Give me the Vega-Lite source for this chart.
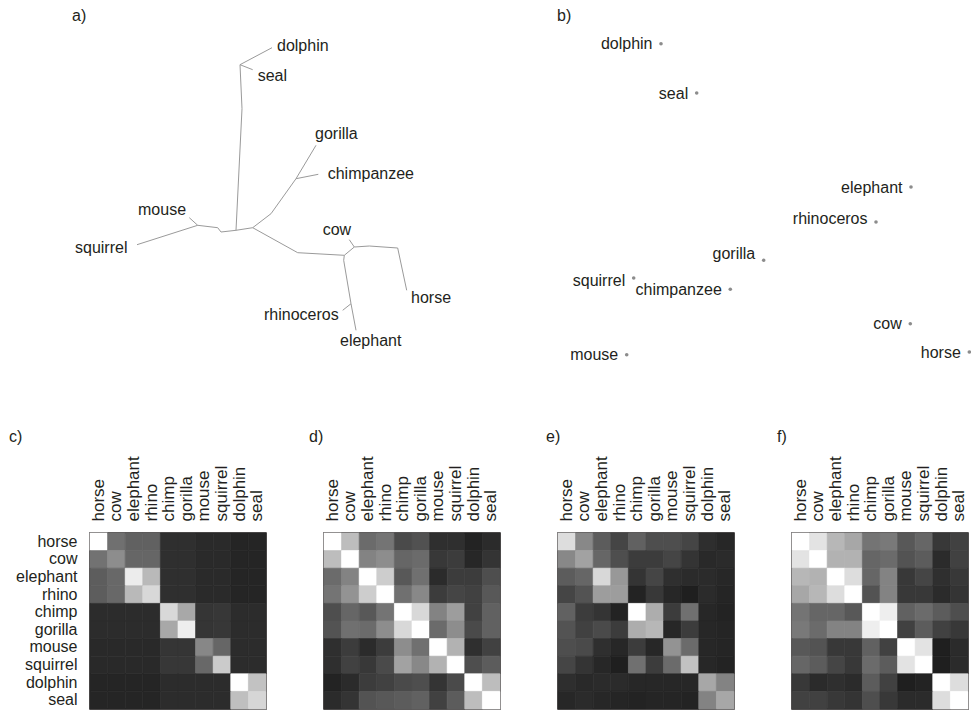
{
  "$schema": "https://vega.github.io/schema/vega-lite/v6.json",
  "padding": {"left": 8, "top": 8, "right": 0, "bottom": 0},
  "background": "white",
  "config": {
    "view": {"stroke": null},
    "font": "Liberation Sans",
    "title": {"font": "Liberation Sans", "fontSize": 16, "fontWeight": "normal", "color": "#231f20", "anchor": "start", "frame": "group", "baseline": "alphabetic"},
    "axis": {"labelFont": "Liberation Sans", "labelFontSize": 16, "labelColor": "#231f20", "ticks": false, "domain": false, "grid": false, "title": null},
    "text": {"font": "Liberation Sans", "fontSize": 16, "color": "#231f20"}
  },
  "datasets": {
    "tree": [
      {"x": 271, "y": 45.7, "x2": 239, "y2": 62.7},
      {"x": 239, "y": 62.7, "x2": 251.7, "y2": 67.7},
      {"x": 239, "y": 62.7, "x2": 241, "y2": 106.7},
      {"x": 241, "y": 106.7, "x2": 235, "y2": 228.3},
      {"x": 235, "y": 228.3, "x2": 220, "y2": 230},
      {"x": 220, "y": 230, "x2": 216.7, "y2": 225.7},
      {"x": 216.7, "y": 225.7, "x2": 196.7, "y2": 223.3},
      {"x": 196.7, "y": 223.3, "x2": 188.3, "y2": 215.7},
      {"x": 196.7, "y": 223.3, "x2": 136, "y2": 242.7},
      {"x": 235, "y": 228.3, "x2": 251.7, "y2": 225.7},
      {"x": 251.7, "y": 225.7, "x2": 270, "y2": 211.7},
      {"x": 270, "y": 211.7, "x2": 295, "y2": 176.7},
      {"x": 295, "y": 176.7, "x2": 315, "y2": 143.3},
      {"x": 295, "y": 176.7, "x2": 317.3, "y2": 172.3},
      {"x": 251.7, "y": 225.7, "x2": 296.7, "y2": 250.7},
      {"x": 296.7, "y": 250.7, "x2": 343.3, "y2": 253.3},
      {"x": 343.3, "y": 253.3, "x2": 353.3, "y2": 245},
      {"x": 353.3, "y": 245, "x2": 348.3, "y2": 237.7},
      {"x": 353.3, "y": 245, "x2": 368.3, "y2": 244},
      {"x": 368.3, "y": 244, "x2": 396.7, "y2": 246},
      {"x": 396.7, "y": 246, "x2": 405.7, "y2": 288.3},
      {"x": 343.3, "y": 253.3, "x2": 342.7, "y2": 258.3},
      {"x": 342.7, "y": 258.3, "x2": 350, "y2": 301.7},
      {"x": 350, "y": 301.7, "x2": 355, "y2": 328.3},
      {"x": 350, "y": 301.7, "x2": 341.7, "y2": 308.3}
    ],
    "treelab": [
      {"name": "dolphin", "x": 276, "y": 49},
      {"name": "seal", "x": 256.7, "y": 79},
      {"name": "gorilla", "x": 314, "y": 137},
      {"name": "chimpanzee", "x": 326.7, "y": 177},
      {"name": "mouse", "x": 137, "y": 213},
      {"name": "squirrel", "x": 74, "y": 251},
      {"name": "cow", "x": 321.7, "y": 233},
      {"name": "horse", "x": 410, "y": 301},
      {"name": "rhinoceros", "x": 263, "y": 318},
      {"name": "elephant", "x": 339, "y": 344}
    ],
    "mds": [
      {"name": "dolphin", "x": 660, "y": 41.7, "ly": 47},
      {"name": "seal", "x": 695.7, "y": 91, "ly": 96.5},
      {"name": "elephant", "x": 910, "y": 185, "ly": 190.5},
      {"name": "rhinoceros", "x": 875, "y": 220, "ly": 221.5},
      {"name": "gorilla", "x": 762.7, "y": 258.3, "ly": 257},
      {"name": "squirrel", "x": 632.7, "y": 276, "ly": 284},
      {"name": "chimpanzee", "x": 729.3, "y": 287.3, "ly": 292.5},
      {"name": "cow", "x": 909.3, "y": 321.7, "ly": 326.7},
      {"name": "horse", "x": 968.3, "y": 350, "ly": 355.5},
      {"name": "mouse", "x": 625.7, "y": 352.7, "ly": 358}
    ],
    "mat": [
      {"p": "c", "r": "horse", "horse": 255, "cow": 120, "elephant": 105, "rhino": 105, "chimp": 49, "gorilla": 49, "mouse": 43, "squirrel": 43, "dolphin": 38, "seal": 38},
      {"p": "c", "r": "cow", "horse": 122, "cow": 150, "elephant": 110, "rhino": 110, "chimp": 49, "gorilla": 49, "mouse": 43, "squirrel": 43, "dolphin": 38, "seal": 38},
      {"p": "c", "r": "elephant", "horse": 101, "cow": 112, "elephant": 238, "rhino": 192, "chimp": 49, "gorilla": 49, "mouse": 43, "squirrel": 43, "dolphin": 38, "seal": 38},
      {"p": "c", "r": "rhino", "horse": 101, "cow": 112, "elephant": 192, "rhino": 220, "chimp": 49, "gorilla": 49, "mouse": 43, "squirrel": 43, "dolphin": 38, "seal": 38},
      {"p": "c", "r": "chimp", "horse": 46, "cow": 46, "elephant": 46, "rhino": 46, "chimp": 220, "gorilla": 176, "mouse": 57, "squirrel": 59, "dolphin": 46, "seal": 46},
      {"p": "c", "r": "gorilla", "horse": 46, "cow": 46, "elephant": 46, "rhino": 46, "chimp": 176, "gorilla": 240, "mouse": 57, "squirrel": 59, "dolphin": 46, "seal": 46},
      {"p": "c", "r": "mouse", "horse": 42, "cow": 42, "elephant": 42, "rhino": 42, "chimp": 57, "gorilla": 57, "mouse": 144, "squirrel": 110, "dolphin": 46, "seal": 46},
      {"p": "c", "r": "squirrel", "horse": 42, "cow": 42, "elephant": 42, "rhino": 42, "chimp": 59, "gorilla": 59, "mouse": 112, "squirrel": 208, "dolphin": 46, "seal": 46},
      {"p": "c", "r": "dolphin", "horse": 37, "cow": 37, "elephant": 37, "rhino": 37, "chimp": 46, "gorilla": 46, "mouse": 46, "squirrel": 46, "dolphin": 255, "seal": 200},
      {"p": "c", "r": "seal", "horse": 37, "cow": 37, "elephant": 37, "rhino": 37, "chimp": 46, "gorilla": 46, "mouse": 46, "squirrel": 46, "dolphin": 197, "seal": 218},

      {"p": "d", "r": "horse", "horse": 255, "cow": 195, "elephant": 115, "rhino": 125, "chimp": 80, "gorilla": 88, "mouse": 50, "squirrel": 50, "dolphin": 35, "seal": 45},
      {"p": "d", "r": "cow", "horse": 195, "cow": 255, "elephant": 140, "rhino": 150, "chimp": 110, "gorilla": 115, "mouse": 60, "squirrel": 65, "dolphin": 40, "seal": 55},
      {"p": "d", "r": "elephant", "horse": 115, "cow": 140, "elephant": 255, "rhino": 210, "chimp": 95, "gorilla": 120, "mouse": 45, "squirrel": 65, "dolphin": 65, "seal": 85},
      {"p": "d", "r": "rhino", "horse": 125, "cow": 155, "elephant": 210, "rhino": 255, "chimp": 120, "gorilla": 145, "mouse": 65, "squirrel": 75, "dolphin": 70, "seal": 95},
      {"p": "d", "r": "chimp", "horse": 85, "cow": 110, "elephant": 95, "rhino": 125, "chimp": 255, "gorilla": 220, "mouse": 140, "squirrel": 165, "dolphin": 70, "seal": 105},
      {"p": "d", "r": "gorilla", "horse": 90, "cow": 120, "elephant": 115, "rhino": 150, "chimp": 220, "gorilla": 255, "mouse": 115, "squirrel": 150, "dolphin": 80, "seal": 105},
      {"p": "d", "r": "mouse", "horse": 50, "cow": 65, "elephant": 45, "rhino": 65, "chimp": 150, "gorilla": 120, "mouse": 255, "squirrel": 185, "dolphin": 50, "seal": 70},
      {"p": "d", "r": "squirrel", "horse": 50, "cow": 70, "elephant": 60, "rhino": 80, "chimp": 170, "gorilla": 145, "mouse": 185, "squirrel": 255, "dolphin": 85, "seal": 100},
      {"p": "d", "r": "dolphin", "horse": 35, "cow": 45, "elephant": 65, "rhino": 70, "chimp": 80, "gorilla": 85, "mouse": 55, "squirrel": 80, "dolphin": 255, "seal": 195},
      {"p": "d", "r": "seal", "horse": 45, "cow": 55, "elephant": 90, "rhino": 95, "chimp": 100, "gorilla": 105, "mouse": 70, "squirrel": 100, "dolphin": 195, "seal": 255},

      {"p": "e", "r": "horse", "horse": 225, "cow": 145, "elephant": 100, "rhino": 75, "chimp": 105, "gorilla": 85, "mouse": 85, "squirrel": 75, "dolphin": 48, "seal": 40},
      {"p": "e", "r": "cow", "horse": 145, "cow": 170, "elephant": 110, "rhino": 85, "chimp": 65, "gorilla": 65, "mouse": 75, "squirrel": 55, "dolphin": 42, "seal": 45},
      {"p": "e", "r": "elephant", "horse": 100, "cow": 110, "elephant": 220, "rhino": 160, "chimp": 55, "gorilla": 75, "mouse": 50, "squirrel": 45, "dolphin": 45, "seal": 40},
      {"p": "e", "r": "rhino", "horse": 75, "cow": 90, "elephant": 165, "rhino": 165, "chimp": 35, "gorilla": 60, "mouse": 40, "squirrel": 30, "dolphin": 45, "seal": 38},
      {"p": "e", "r": "chimp", "horse": 105, "cow": 65, "elephant": 55, "rhino": 35, "chimp": 255, "gorilla": 180, "mouse": 65, "squirrel": 120, "dolphin": 40, "seal": 35},
      {"p": "e", "r": "gorilla", "horse": 90, "cow": 70, "elephant": 80, "rhino": 65, "chimp": 180, "gorilla": 190, "mouse": 40, "squirrel": 65, "dolphin": 40, "seal": 38},
      {"p": "e", "r": "mouse", "horse": 85, "cow": 80, "elephant": 50, "rhino": 40, "chimp": 65, "gorilla": 40, "mouse": 155, "squirrel": 115, "dolphin": 40, "seal": 38},
      {"p": "e", "r": "squirrel", "horse": 75, "cow": 55, "elephant": 40, "rhino": 30, "chimp": 120, "gorilla": 65, "mouse": 115, "squirrel": 200, "dolphin": 40, "seal": 35},
      {"p": "e", "r": "dolphin", "horse": 48, "cow": 42, "elephant": 45, "rhino": 45, "chimp": 40, "gorilla": 40, "mouse": 40, "squirrel": 40, "dolphin": 175, "seal": 140},
      {"p": "e", "r": "seal", "horse": 40, "cow": 45, "elephant": 40, "rhino": 38, "chimp": 35, "gorilla": 38, "mouse": 38, "squirrel": 35, "dolphin": 140, "seal": 175},

      {"p": "f", "r": "horse", "horse": 255, "cow": 230, "elephant": 190, "rhino": 175, "chimp": 125, "gorilla": 130, "mouse": 95, "squirrel": 110, "dolphin": 60, "seal": 70},
      {"p": "f", "r": "cow", "horse": 230, "cow": 255, "elephant": 185, "rhino": 185, "chimp": 110, "gorilla": 115, "mouse": 90, "squirrel": 100, "dolphin": 45, "seal": 70},
      {"p": "f", "r": "elephant", "horse": 190, "cow": 185, "elephant": 255, "rhino": 225, "chimp": 110, "gorilla": 140, "mouse": 60, "squirrel": 75, "dolphin": 50, "seal": 60},
      {"p": "f", "r": "rhino", "horse": 175, "cow": 190, "elephant": 225, "rhino": 255, "chimp": 90, "gorilla": 140, "mouse": 60, "squirrel": 60, "dolphin": 45, "seal": 55},
      {"p": "f", "r": "chimp", "horse": 125, "cow": 110, "elephant": 110, "rhino": 95, "chimp": 255, "gorilla": 240, "mouse": 105, "squirrel": 115, "dolphin": 100, "seal": 85},
      {"p": "f", "r": "gorilla", "horse": 130, "cow": 115, "elephant": 140, "rhino": 140, "chimp": 240, "gorilla": 255, "mouse": 70, "squirrel": 100, "dolphin": 70, "seal": 60},
      {"p": "f", "r": "mouse", "horse": 95, "cow": 90, "elephant": 60, "rhino": 60, "chimp": 105, "gorilla": 70, "mouse": 255, "squirrel": 230, "dolphin": 30, "seal": 45},
      {"p": "f", "r": "squirrel", "horse": 110, "cow": 100, "elephant": 75, "rhino": 60, "chimp": 115, "gorilla": 100, "mouse": 230, "squirrel": 255, "dolphin": 30, "seal": 45},
      {"p": "f", "r": "dolphin", "horse": 60, "cow": 45, "elephant": 50, "rhino": 45, "chimp": 100, "gorilla": 70, "mouse": 30, "squirrel": 35, "dolphin": 255, "seal": 225},
      {"p": "f", "r": "seal", "horse": 70, "cow": 70, "elephant": 60, "rhino": 55, "chimp": 85, "gorilla": 60, "mouse": 45, "squirrel": 45, "dolphin": 225, "seal": 255}
    ]
  },
  "spacing": 65,
  "bounds": "full",
  "resolve": {"scale": {"x": "independent", "y": "independent"}},
  "vconcat": [
    {
      "spacing": 100,
      "bounds": "flush",
      "resolve": {"scale": {"x": "independent", "y": "independent"}},
      "hconcat": [
        {
          "width": 371,
          "height": 330,
          "title": {"text": "a)", "dx": -18, "offset": 8},
          "layer": [
            {
              "data": {"name": "tree"},
              "mark": {"type": "rule", "color": "#9a9a9a", "strokeWidth": 1},
              "encoding": {
                "x": {"field": "x", "type": "quantitative", "scale": {"domain": [89, 460], "nice": false, "zero": false}, "axis": null},
                "y": {"field": "y", "type": "quantitative", "scale": {"domain": [30, 360], "nice": false, "zero": false, "reverse": true}, "axis": null},
                "x2": {"field": "x2"},
                "y2": {"field": "y2"}
              }
            },
            {
              "data": {"name": "treelab"},
              "mark": {"type": "text", "align": "left", "baseline": "alphabetic", "fontSize": 16, "color": "#231f20"},
              "encoding": {
                "x": {"field": "x", "type": "quantitative", "axis": null},
                "y": {"field": "y", "type": "quantitative", "axis": null},
                "text": {"field": "name"}
              }
            }
          ]
        },
        {
          "width": 410,
          "height": 330,
          "title": {"text": "b)", "dx": -4, "offset": 8},
          "data": {"name": "mds"},
          "layer": [
            {
              "mark": {"type": "point", "filled": true, "size": 13, "color": "#8c8c8c", "opacity": 1},
              "encoding": {
                "x": {"field": "x", "type": "quantitative", "scale": {"domain": [560, 970], "nice": false, "zero": false}, "axis": null},
                "y": {"field": "y", "type": "quantitative", "scale": {"domain": [30, 360], "nice": false, "zero": false, "reverse": true}, "axis": null}
              }
            },
            {
              "mark": {"type": "text", "align": "right", "baseline": "alphabetic", "dx": -8.5, "fontSize": 16, "color": "#231f20"},
              "encoding": {
                "x": {"field": "x", "type": "quantitative", "axis": null},
                "y": {"field": "ly", "type": "quantitative", "axis": null},
                "text": {"field": "name"}
              }
            }
          ]
        }
      ]
    },
    {
      "spacing": 58,
      "bounds": "flush",
      "resolve": {"scale": {"x": "independent", "y": "independent"}},
      "hconcat": [
        {
          "width": 176, "height": 176,
          "view": {"stroke": "#231f20", "strokeWidth": 1.5},
          "title": {"text": "c)", "dx": -81, "offset": 11},
          "data": {"name": "mat"},
          "transform": [
            {"filter": "datum.p === 'c'"},
            {"fold": ["horse", "cow", "elephant", "rhino", "chimp", "gorilla", "mouse", "squirrel", "dolphin", "seal"], "as": ["col", "v"]}
          ],
          "mark": {"type": "rect", "strokeWidth": 0.7},
          "encoding": {
            "x": {"field": "col", "type": "nominal", "scale": {"domain": ["horse", "cow", "elephant", "rhino", "chimp", "gorilla", "mouse", "squirrel", "dolphin", "seal"]}, "axis": {"orient": "top", "labelAngle": -90, "labelAlign": "left", "labelBaseline": "middle", "labelPadding": 12, "labelFontSize": 17}},
            "y": {"field": "r", "type": "nominal", "scale": {"domain": ["horse", "cow", "elephant", "rhino", "chimp", "gorilla", "mouse", "squirrel", "dolphin", "seal"]}, "axis": {"orient": "left", "labelPadding": 13}},
            "color": {"field": "v", "type": "quantitative", "scale": {"domain": [0, 255], "range": ["#000000", "#ffffff"]}, "legend": null},
            "stroke": {"field": "v", "type": "quantitative", "scale": {"domain": [0, 255], "range": ["#000000", "#ffffff"]}, "legend": null}
          }
        },
        {
          "width": 176, "height": 176,
          "view": {"stroke": "#231f20", "strokeWidth": 1.5},
          "title": {"text": "d)", "dx": -15, "offset": 11},
          "data": {"name": "mat"},
          "transform": [
            {"filter": "datum.p === 'd'"},
            {"fold": ["horse", "cow", "elephant", "rhino", "chimp", "gorilla", "mouse", "squirrel", "dolphin", "seal"], "as": ["col", "v"]}
          ],
          "mark": {"type": "rect", "strokeWidth": 0.7},
          "encoding": {
            "x": {"field": "col", "type": "nominal", "scale": {"domain": ["horse", "cow", "elephant", "rhino", "chimp", "gorilla", "mouse", "squirrel", "dolphin", "seal"]}, "axis": {"orient": "top", "labelAngle": -90, "labelAlign": "left", "labelBaseline": "middle", "labelPadding": 12, "labelFontSize": 17}},
            "y": {"field": "r", "type": "nominal", "scale": {"domain": ["horse", "cow", "elephant", "rhino", "chimp", "gorilla", "mouse", "squirrel", "dolphin", "seal"]}, "axis": null},
            "color": {"field": "v", "type": "quantitative", "scale": {"domain": [0, 255], "range": ["#000000", "#ffffff"]}, "legend": null},
            "stroke": {"field": "v", "type": "quantitative", "scale": {"domain": [0, 255], "range": ["#000000", "#ffffff"]}, "legend": null}
          }
        },
        {
          "width": 176, "height": 176,
          "view": {"stroke": "#231f20", "strokeWidth": 1.5},
          "title": {"text": "e)", "dx": -12, "offset": 11},
          "data": {"name": "mat"},
          "transform": [
            {"filter": "datum.p === 'e'"},
            {"fold": ["horse", "cow", "elephant", "rhino", "chimp", "gorilla", "mouse", "squirrel", "dolphin", "seal"], "as": ["col", "v"]}
          ],
          "mark": {"type": "rect", "strokeWidth": 0.7},
          "encoding": {
            "x": {"field": "col", "type": "nominal", "scale": {"domain": ["horse", "cow", "elephant", "rhino", "chimp", "gorilla", "mouse", "squirrel", "dolphin", "seal"]}, "axis": {"orient": "top", "labelAngle": -90, "labelAlign": "left", "labelBaseline": "middle", "labelPadding": 12, "labelFontSize": 17}},
            "y": {"field": "r", "type": "nominal", "scale": {"domain": ["horse", "cow", "elephant", "rhino", "chimp", "gorilla", "mouse", "squirrel", "dolphin", "seal"]}, "axis": null},
            "color": {"field": "v", "type": "quantitative", "scale": {"domain": [0, 255], "range": ["#000000", "#ffffff"]}, "legend": null},
            "stroke": {"field": "v", "type": "quantitative", "scale": {"domain": [0, 255], "range": ["#000000", "#ffffff"]}, "legend": null}
          }
        },
        {
          "width": 176, "height": 176,
          "view": {"stroke": "#231f20", "strokeWidth": 1.5},
          "title": {"text": "f)", "dx": -15, "offset": 11},
          "data": {"name": "mat"},
          "transform": [
            {"filter": "datum.p === 'f'"},
            {"fold": ["horse", "cow", "elephant", "rhino", "chimp", "gorilla", "mouse", "squirrel", "dolphin", "seal"], "as": ["col", "v"]}
          ],
          "mark": {"type": "rect", "strokeWidth": 0.7},
          "encoding": {
            "x": {"field": "col", "type": "nominal", "scale": {"domain": ["horse", "cow", "elephant", "rhino", "chimp", "gorilla", "mouse", "squirrel", "dolphin", "seal"]}, "axis": {"orient": "top", "labelAngle": -90, "labelAlign": "left", "labelBaseline": "middle", "labelPadding": 12, "labelFontSize": 17}},
            "y": {"field": "r", "type": "nominal", "scale": {"domain": ["horse", "cow", "elephant", "rhino", "chimp", "gorilla", "mouse", "squirrel", "dolphin", "seal"]}, "axis": null},
            "color": {"field": "v", "type": "quantitative", "scale": {"domain": [0, 255], "range": ["#000000", "#ffffff"]}, "legend": null},
            "stroke": {"field": "v", "type": "quantitative", "scale": {"domain": [0, 255], "range": ["#000000", "#ffffff"]}, "legend": null}
          }
        }
      ]
    }
  ]
}
